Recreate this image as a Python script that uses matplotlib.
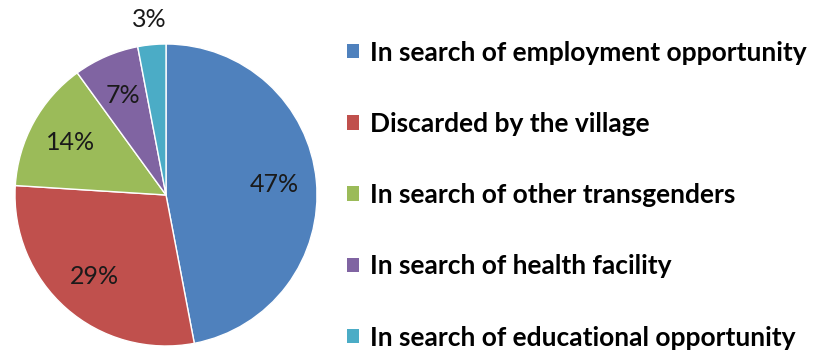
import matplotlib.pyplot as plt
import numpy as np

reasons = ['In search of employment opportunity',
           'Discarded by the village',
           'In search of other transgenders',
           'In search of health facility',
           'In search of educational opportunity']
shares = [47, 29, 14, 7, 3]
colors = ['#4F81BD', '#C0504D', '#9BBB59', '#8064A2', '#4BACC6']

plt.rcParams['font.family'] = ['Lato', 'DejaVu Sans']

W, H = 814, 356
fig = plt.figure(figsize=(W / 100, H / 100), dpi=100)

# pie centre and radius in pixels
cx, cy, r = 166, 161, 151
ax = fig.add_axes([(cx - r) / W, (cy - r) / H, 2 * r / W, 2 * r / H])

wedges, texts, autotexts = ax.pie(
    shares, colors=colors, startangle=90, counterclock=False,
    autopct=lambda p: '%d%%' % round(p), pctdistance=0.72,
    wedgeprops=dict(edgecolor='white', linewidth=1),
    textprops=dict(fontsize=18, color='#1a1a1a'))
ax.set_xlim(-1, 1)
ax.set_ylim(-1, 1)
ax.set_aspect('equal')
ax.axis('off')

# tiny slice gets its label outside the pie
for w, t, v in zip(wedges, autotexts, shares):
    if v < 5:
        ang = np.deg2rad((w.theta1 + w.theta2) / 2)
        t.set_position((1.17 * np.cos(ang), 1.17 * np.sin(ang)))

leg = fig.legend(wedges, reasons, loc='upper left',
                 bbox_to_anchor=(336 / W, 1 - 30 / H),
                 frameon=False, handlelength=0.47, handleheight=0.47,
                 handletextpad=0.42, labelspacing=1.79, borderaxespad=0,
                 prop=dict(size=19, weight='bold'))
for h in leg.legend_handles:
    h.set_edgecolor('none')

fig.savefig('out.png', dpi=100)
